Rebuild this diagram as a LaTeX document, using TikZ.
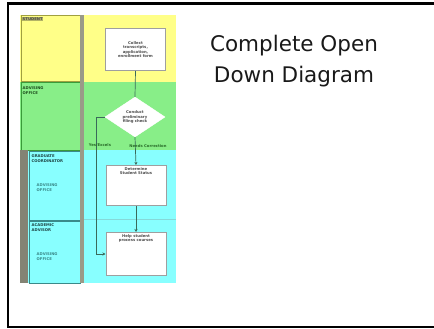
\documentclass[tikz,border=0pt]{standalone}
\usepackage{fontspec}
\setmainfont{DejaVu Sans}
\usetikzlibrary{shapes.geometric,arrows.meta}
\definecolor{lyellow}{HTML}{FFFF88}
\definecolor{lgreen}{HTML}{88EE88}
\definecolor{lcyan}{HTML}{88FFFF}
\definecolor{olive1}{HTML}{A0A040}
\definecolor{dgreen}{HTML}{3A9A3A}
\definecolor{dteal}{HTML}{3A8A8A}
\definecolor{sepgray}{HTML}{9A9A88}
\definecolor{linec}{HTML}{3A6A5A}
\newcommand{\tinyt}{\fontsize{3.8}{4.6}\selectfont\bfseries}
\tikzset{
  lane/.style={inner sep=0pt, anchor=north west, draw=none},
  cell/.style={inner sep=0pt, anchor=north west, line width=0.9pt},
  stepbox/.style={draw=gray!75, fill=white, line width=1pt, inner sep=1pt,
     minimum width=60pt, anchor=north west, align=center, font=\tinyt, text=black!70},
  decbox/.style={diamond, draw=white, fill=white, inner sep=0pt, minimum width=60pt,
     minimum height=40pt, align=center, font=\tinyt, text=black!70},
  conn/.style={draw=linec, line width=0.7pt},
  arr/.style={conn, -{Stealth[length=3pt,width=3pt]}},
  lbl/.style={font=\tinyt, text=dgreen!70!black, inner sep=0.5pt, align=left},
  title/.style={font=\fontsize{21.5}{31}\selectfont, align=center, text=black!90}
}
\begin{document}
\begin{tikzpicture}[x=1pt,y=-1pt]
\useasboundingbox (0,0) rectangle (434,329);
\clip (0,0) rectangle (434,329);
% frame
\draw[line width=2.5pt] (445,3.5) -- (8,3.5) -- (8,327) -- (445,327);
% lanes
\node[lane, fill=lyellow, minimum width=156pt, minimum height=67pt] (ylane) at (20,15) {};
\node[lane, fill=lgreen, minimum width=156pt, minimum height=68pt] (glane) at (20,82) {};
\node[lane, fill=lcyan, minimum width=156pt, minimum height=133pt] (clane) at (20,150) {};
% left header cells
\node[cell, draw=olive1, minimum width=59pt, minimum height=66pt] (ycell) at (20.5,15.5) {};
\node[cell, draw=dgreen, minimum width=59pt, minimum height=67pt] (gcell) at (20.5,82.5) {};
\node[lane, fill=sepgray!85!black, minimum width=8pt, minimum height=133pt] (cbar) at (20,150) {};
\node[cell, draw=dteal, minimum width=51pt, minimum height=69pt] (ccell1) at (28.5,150.5) {};
\node[cell, draw=dteal, minimum width=51pt, minimum height=62pt] (ccell2) at (28.5,220.5) {};
% separator bar
\node[lane, fill=sepgray, minimum width=4pt, minimum height=268pt] (sep) at (80,15) {};
% faint divider
\draw[lcyan!70!gray, line width=0.4pt] (84,219) -- (176,219);
% lane labels
\node[lbl, anchor=north west, fill=olive1!80, text=black!70] (lstud) at (22,17) {STUDENT};
\node[lbl, anchor=north west, text=dgreen!50!black] (ladv) at (22,86) {ADVISING\\OFFICE};
\node[lbl, anchor=north west, text=dteal!50!black] (lgrad) at (31,154) {GRADUATE\\COORDINATOR};
\node[lbl, anchor=north west, text=dteal] (lgrad2) at (36,183) {ADVISING\\OFFICE};
\node[lbl, anchor=north west, text=dteal!50!black] (lacad) at (31,223) {ACADEMIC\\ADVISOR};
\node[lbl, anchor=north west, text=dteal] (lacad2) at (36,252) {ADVISING\\OFFICE};
% flow
\node[stepbox, minimum height=42pt, text depth=0pt] (box1) at (105,28)
  {Collect\\transcripts,\\application,\\enrollment form};
\node[decbox] (dia) at (135,117) {Conduct\\preliminary\\filing check};
\node[stepbox, minimum height=40pt, anchor=north west] (box2) at (105.5,165) {};
\node[font=\tinyt, text=black!70, align=center, anchor=north] (t2) at (box2.north) {\\[-3pt]Determine\\Student Status};
\node[stepbox, minimum height=43pt] (box3) at (105.5,232) {};
\node[font=\tinyt, text=black!70, align=center, anchor=north] (t3) at (box3.north) {\\[-3pt]Help student\\process courses};
\coordinate (bend) at (96,117);
\draw[conn] (box1.south) -- (dia.north);
\draw[arr] (dia.south) -- (box2.north);
\draw[arr] (box2.south) -- (box3.north);
\draw[arr] (dia.west) -- (bend) |- (box3.west);
\node[lbl] (yes) at (100,145) {Yes/Excels};
\node[lbl] (no) at (148,146) {Needs Correction};
% title
\node[title] (ttl) at (294,61) {Complete Open\\Down Diagram};
\end{tikzpicture}
\end{document}
